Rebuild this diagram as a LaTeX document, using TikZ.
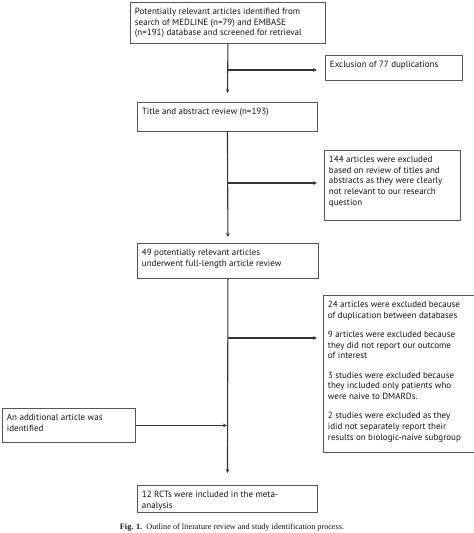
\documentclass[tikz,border=0pt]{standalone}
\usepackage{fontspec}
\setmainfont{PT Sans}
\newfontfamily\capfont{Liberation Serif}
\usetikzlibrary{arrows.meta}
\definecolor{boxcol}{HTML}{555555}
\definecolor{txtcol}{HTML}{111111}
\definecolor{lncol}{HTML}{333333}
\newcommand\btext[3]{\parbox[t][#2][t]{#1}{\setlength{\parskip}{0pt}\setlength{\parindent}{0pt}#3}}
\tikzset{
  bx/.style={draw=boxcol, line width=0.9pt, anchor=north west, inner xsep=4.5pt, inner ysep=5.5pt,
    font=\fontsize{9}{10.7}\selectfont, text=txtcol},
  arr/.style={draw=lncol, line width=1.1pt, -{Stealth[length=4pt,width=3.6pt]}},
  ln/.style={draw=lncol, line width=1.1pt}
}
\begin{document}
\begin{tikzpicture}[x=1pt,y=-1pt]
\useasboundingbox (0,0) rectangle (474,533);
% boxes
\node[bx] (b1) at (130,2) {\btext{186pt}{30pt}{Potentially relevant articles identified from\\search of MEDLINE (n=79) and EMBASE\\(n=191) database and screened for retrieval}};
\node[bx] (ex1) at (325,55) {\btext{128pt}{14pt}{Exclusion of 77 duplications}};
\node[bx] (b2) at (137,102) {\btext{171pt}{18pt}{Title and abstract review (n=193)}};
\node[bx] (b3) at (324,150) {\btext{127pt}{59pt}{144 articles were excluded\\based on review of titles and\\abstracts as they were clearly\\not relevant to our research\\question}};
\node[bx] (b4) at (137,243) {\btext{172pt}{24pt}{49 potentially relevant articles\\underwent full-length article review}};
\node[bx] (b5) at (323,295) {\btext{170pt}{146pt}{\setlength{\parskip}{8.6pt}24 articles were excluded because\\of duplication between databases\par
9 articles were excluded because\\they did not report our outcome\\of interest\par
3 studies were excluded because\\they included only patients who\\were naive to DMARDs.\par
2 studies were excluded as they\\idid not separately report their\\results on biologic-naive subgroup}};
\node[bx] (b6) at (2,408) {\btext{124pt}{23pt}{An additional article was\\identified}};
\node[bx] (b7) at (137,485) {\btext{171pt}{16pt}{12 RCTs were included in the meta-\\analysis}};
% junction points on the trunk
\coordinate (j1) at (227.5,70);
\coordinate (j2) at (227,183);
\coordinate (j3) at (227.5,338);
\coordinate (j4) at (227.5,424);
% trunk
\draw[arr, shorten >=9pt] (b1.south) -- (b2.north);
\draw[arr, shorten >=6pt] (b2.south) -- (b4.north);
\draw[arr, shorten >=12pt] (b4.south) -- (b7.north);
% branches
\draw[arr, shorten >=8pt] (j1) -- (j1 -| ex1.west);
\draw[arr, shorten >=7pt] (j2) -- (j2 -| b3.west);
\draw[arr, shorten >=6pt] (j3) -- (j3 -| b5.west);
\draw[arr, shorten >=0.5pt] (b6.east) -- (b6.east -| j4);
% caption
\node[anchor=base, font=\capfont\fontsize{8.2}{10}\selectfont, text=txtcol] (cap) at (232,529.5) {\textbf{Fig. 1.}\ \ Outline of literature review and study identification process.};
\end{tikzpicture}
\end{document}
